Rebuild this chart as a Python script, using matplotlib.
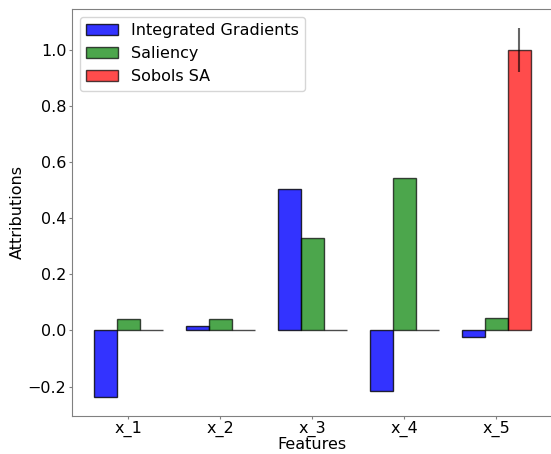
import numpy as np
import matplotlib.pyplot as plt

features = ["x_1", "x_2", "x_3", "x_4", "x_5"]
ig_attr = [-0.238, 0.017, 0.506, -0.217, -0.024]
saliency_attr = [0.040, 0.042, 0.328, 0.545, 0.044]
sobol_attr = [0.0, 0.0, 0.0, 0.0, 1.0]
sobol_err = [0.0, 0.0, 0.0, 0.0, 0.08]

plt.rcParams["font.size"] = 11.5

fig = plt.figure(figsize=(5.51, 4.54), dpi=100)
ax = fig.add_axes([0.1307, 0.0844, 0.872, 0.8957])

x = np.arange(len(features))
width = 0.25
ax.bar(x - width, ig_attr, width, color="blue", alpha=0.8,
       edgecolor="black", label="Integrated Gradients")
ax.bar(x, saliency_attr, width, color="green", alpha=0.7,
       edgecolor="black", label="Saliency")
ax.bar(x + width, sobol_attr, width, color="red", alpha=0.7,
       edgecolor="black", label="Sobols SA",
       yerr=sobol_err, error_kw=dict(ecolor="black", alpha=0.6, lw=1.5))

ax.set_xticks(x)
ax.set_xticklabels(features)
ax.set_xlabel("Features", labelpad=0)
ax.set_ylabel("Attributions", labelpad=2)
ax.legend(loc="upper left")

for s in ax.spines.values():
    s.set_color("#808080")
ax.tick_params(color="#808080", length=2.5, pad=1.5)

fig.savefig("out.png", dpi=100)
